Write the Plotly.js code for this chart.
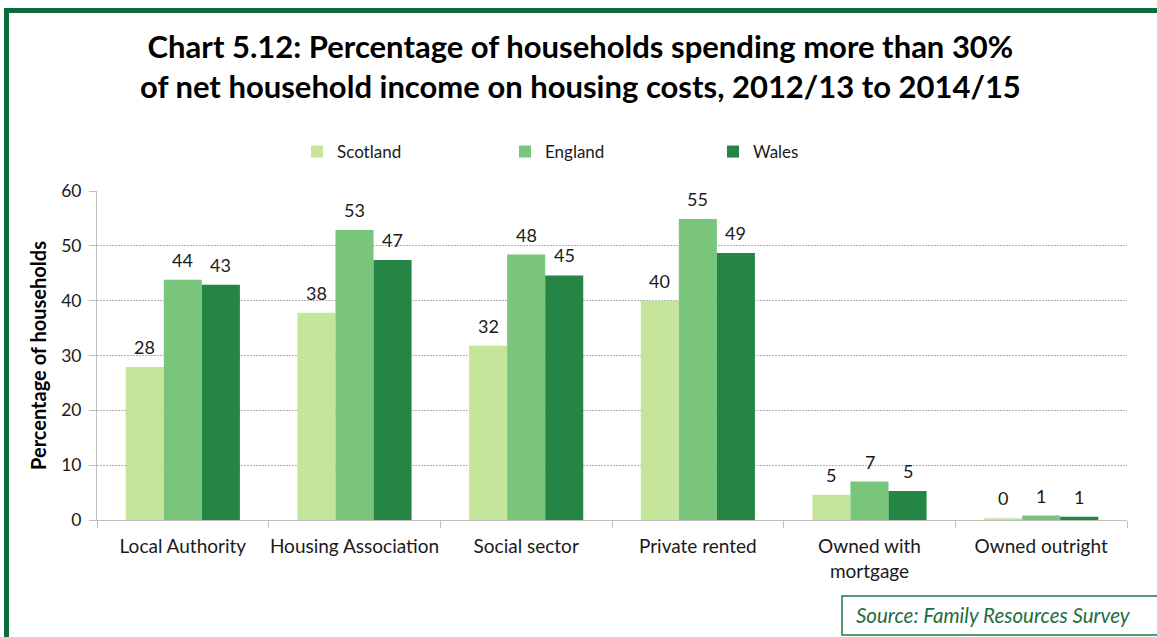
<!DOCTYPE html>
<html>
<head>
<meta charset="utf-8">
<script src="https://cdn.plot.ly/plotly-3.0.1.min.js"></script>
<style>html,body{margin:0;padding:0;background:#fff;}#chart{width:1157px;height:637px;}</style>
</head>
<body>
<div id="chart"></div>
<script>
const categories = ["Local Authority", "Housing Association", "Social sector", "Private rented", "Owned with<br>mortgage", "Owned outright"];
const scotland = [27.9, 37.8, 31.8, 40.0, 4.6, 0.3];
const england = [43.8, 52.9, 48.4, 54.9, 7.0, 0.8];
const wales = [42.9, 47.4, 44.6, 48.7, 5.3, 0.6];
const seriesNames = ["Scotland", "England", "Wales"];
const seriesColors = ["#c4e59a", "#79c57b", "#248545"];
const titleLines = ["Chart 5.12: Percentage of households spending more than 30%", "of net household income on housing costs, 2012/13 to 2014/15"];

const FONT = "Lato, 'Open Sans', sans-serif";
const W = 1157, H = 637;
const M = {l: 97, r: 30, t: 191, b: 117};
const pw = W - M.l - M.r, ph = H - M.t - M.b;
const px = x => (x - M.l) / pw;
const py = y => (H - M.b - y) / ph;

const allSeries = [scotland, england, wales];
const BARGAP = 0.335;
const barPx = (pw / categories.length) * (1 - BARGAP) / allSeries.length;

const traces = allSeries.map((vals, i) => ({
  type: "bar",
  name: seriesNames[i],
  x: categories,
  y: vals,
  marker: {color: seriesColors[i]},
  hoverinfo: "x+y+name"
}));

const labelAnns = [];
allSeries.forEach((vals, i) => {
  vals.forEach((v, j) => {
    labelAnns.push({
      xref: "x", yref: "y", x: categories[j], y: v,
      xanchor: "center", yanchor: "bottom", showarrow: false,
      xshift: (i - 1) * barPx, yshift: 7,
      text: String(Math.round(v)),
      font: {family: FONT, size: 18, color: "#1a1a1a"}
    });
  });
});

const green = "#0b6b3a";
const layout = {
  width: W, height: H,
  margin: M,
  paper_bgcolor: "#fff", plot_bgcolor: "#fff",
  font: {family: FONT, color: "#1a1a1a"},
  barmode: "group",
  bargap: BARGAP,
  bargroupgap: 0,
  showlegend: true,
  legend: {
    orientation: "h", x: px(297), xanchor: "left", y: py(152), yanchor: "middle",
    entrywidth: 163, entrywidthmode: "pixels",
    font: {family: FONT, size: 17, color: "#1a1a1a"},
    itemclick: false, traceorder: "normal"
  },
  xaxis: {
    type: "category",
    showline: true, linecolor: "#bfbfbf", linewidth: 1,
    ticks: "outside", tickson: "boundaries", ticklen: 7, tickcolor: "#bfbfbf",
    tickangle: 0,
    ticklabelstandoff: 9,
    tickfont: {family: FONT, size: 19, color: "#1a1a1a"},
    showgrid: false, zeroline: false, fixedrange: true
  },
  yaxis: {
    range: [0, 60], dtick: 10,
    showline: true, linecolor: "#bfbfbf", linewidth: 1,
    ticks: "outside", ticklen: 7, tickcolor: "#bfbfbf",
    ticklabelstandoff: 4,
    tickfont: {family: FONT, size: 17.5, color: "#1a1a1a"},
    showgrid: true, gridcolor: "#b0b0b0", gridwidth: 1, griddash: "2px,1px",
    zeroline: false, fixedrange: true,
    title: {text: "<b>Percentage of households</b>", font: {family: FONT, size: 20, color: "#000"}, standoff: 9}
  },
  shapes: [
    {type: "line", xref: "paper", yref: "paper", x0: px(6.5), x1: px(6.5), y0: py(8), y1: py(645), line: {color: green, width: 5}},
    {type: "line", xref: "paper", yref: "paper", x0: px(4), x1: px(1165), y0: py(10.5), y1: py(10.5), line: {color: green, width: 5}},
    {type: "rect", xref: "paper", yref: "paper", x0: px(842), x1: px(1165), y0: py(596), y1: py(635), line: {color: "#1e7a45", width: 1.5}, fillcolor: "#fff"}
  ],
  annotations: [
    {xref: "paper", yref: "paper", x: px(580), y: py(66), xanchor: "center", yanchor: "middle", showarrow: false,
     text: "<b>" + titleLines.join("<br>") + "</b>", font: {family: FONT, size: 31, color: "#000"}},
    {xref: "paper", yref: "paper", x: px(854), y: py(615), xanchor: "left", yanchor: "middle", showarrow: false,
     text: "<i>Source: Family Resources Survey</i>", font: {family: FONT, size: 20.5, color: "#1e6e3f"}}
  ].concat(labelAnns)
};

Plotly.newPlot("chart", traces, layout, {displayModeBar: false, staticPlot: true});
</script>
</body>
</html>
